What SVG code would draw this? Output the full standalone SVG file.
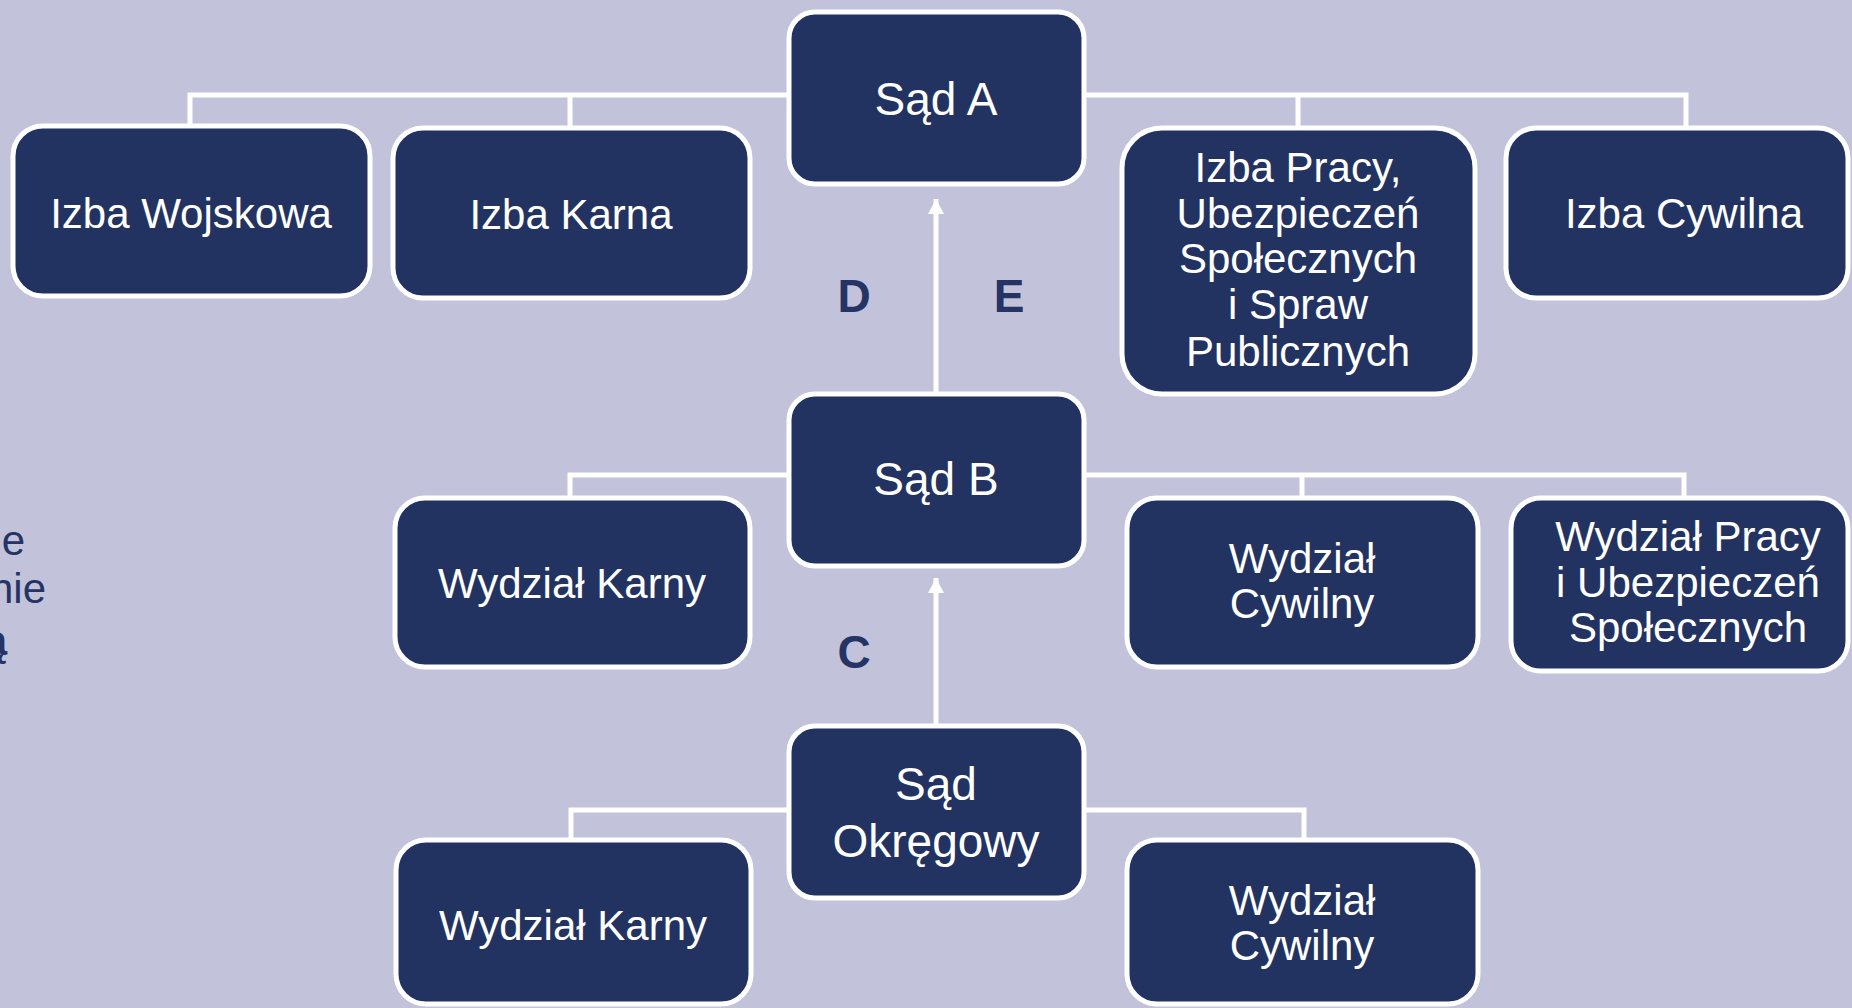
<svg xmlns="http://www.w3.org/2000/svg" width="1852" height="1008" viewBox="0 0 1852 1008">
<style>
.bg{fill:#c2c3da}
.box{fill:#233361;stroke:#ffffff;stroke-width:5}
.t{font-family:"Liberation Sans",Arial,sans-serif;font-size:42px;fill:#ffffff;text-anchor:middle}
.ts{font-size:46px}
.lbl{font-family:"Liberation Sans",Arial,sans-serif;font-size:46px;font-weight:bold;fill:#253465;text-anchor:middle}
.side{font-family:"Liberation Sans",Arial,sans-serif;font-size:42px;fill:#253465;text-anchor:end}
.ln{fill:none;stroke:#ffffff;stroke-width:5}
</style>
<defs>
<marker id="ah" markerWidth="4" markerHeight="4" refX="3" refY="2" orient="auto" markerUnits="strokeWidth">
<path d="M0,0.4 L3,2 L0,3.6 Z" fill="#ffffff"/>
</marker>
</defs>
<rect class="bg" x="0" y="0" width="1852" height="1008"/>
<g id="side-text">
<text class="side" x="25" y="555">e</text>
<text class="side" x="46" y="603">nie</text>
<text class="side" x="7" y="655" font-weight="bold">ą</text>
</g>
<g id="connectors">
<polyline class="ln" points="190,126 190,95 789,95"/>
<line class="ln" x1="570" y1="95" x2="570" y2="128"/>
<polyline class="ln" points="1084,95 1686,95 1686,128"/>
<line class="ln" x1="1298" y1="95" x2="1298" y2="128"/>
<polyline class="ln" points="570,498 570,475 789,475"/>
<polyline class="ln" points="1084,475 1684,475 1684,498"/>
<line class="ln" x1="1302" y1="475" x2="1302" y2="498"/>
<polyline class="ln" points="571,840 571,810 789,810"/>
<polyline class="ln" points="1084,810 1304,810 1304,840"/>
<line class="ln" x1="936" y1="394" x2="936" y2="199" marker-end="url(#ah)"/>
<line class="ln" x1="936" y1="726" x2="936" y2="578" marker-end="url(#ah)"/>
</g>
<g id="labels">
<text class="lbl" x="854" y="312">D</text>
<text class="lbl" x="1009" y="312">E</text>
<text class="lbl" x="854" y="668">C</text>
</g>
<g id="sad-a"><rect class="box" x="789" y="12" width="295" height="172" rx="26"/><text class="t ts" x="936" y="115">Sąd A</text></g>
<g id="izba-wojskowa"><rect class="box" x="13" y="126" width="357" height="170" rx="30"/><text class="t" x="191" y="228">Izba Wojskowa</text></g>
<g id="izba-karna"><rect class="box" x="393" y="128" width="357" height="170" rx="30"/><text class="t" x="571" y="229">Izba Karna</text></g>
<g id="izba-pracy"><rect class="box" x="1122" y="128" width="353" height="266" rx="40"/>
<text class="t" x="1298" y="182">Izba Pracy,</text>
<text class="t" x="1298" y="228">Ubezpieczeń</text>
<text class="t" x="1298" y="273">Społecznych</text>
<text class="t" x="1298" y="319">i Spraw</text>
<text class="t" x="1298" y="366">Publicznych</text></g>
<g id="izba-cywilna"><rect class="box" x="1506" y="128" width="342" height="170" rx="30"/><text class="t" x="1684" y="228">Izba Cywilna</text></g>
<g id="sad-b"><rect class="box" x="789" y="394" width="295" height="172" rx="26"/><text class="t ts" x="936" y="495">Sąd B</text></g>
<g id="wydzial-karny-b"><rect class="box" x="395" y="498" width="355" height="169" rx="30"/><text class="t" x="572" y="598">Wydział Karny</text></g>
<g id="wydzial-cywilny-b"><rect class="box" x="1127" y="498" width="351" height="169" rx="30"/>
<text class="t" x="1302" y="573">Wydział</text>
<text class="t" x="1302" y="618">Cywilny</text></g>
<g id="wydzial-pracy"><rect class="box" x="1511" y="498" width="337" height="173" rx="30"/>
<text class="t" x="1688" y="551">Wydział Pracy</text>
<text class="t" x="1688" y="597">i Ubezpieczeń</text>
<text class="t" x="1688" y="642">Społecznych</text></g>
<g id="sad-okregowy"><rect class="box" x="789" y="726" width="295" height="172" rx="26"/>
<text class="t ts" x="936" y="800">Sąd</text>
<text class="t ts" x="936" y="857">Okręgowy</text></g>
<g id="wydzial-karny-o"><rect class="box" x="396" y="840" width="355" height="164" rx="30"/><text class="t" x="573" y="940">Wydział Karny</text></g>
<g id="wydzial-cywilny-o"><rect class="box" x="1127" y="840" width="351" height="164" rx="30"/>
<text class="t" x="1302" y="915">Wydział</text>
<text class="t" x="1302" y="960">Cywilny</text></g>
</svg>
